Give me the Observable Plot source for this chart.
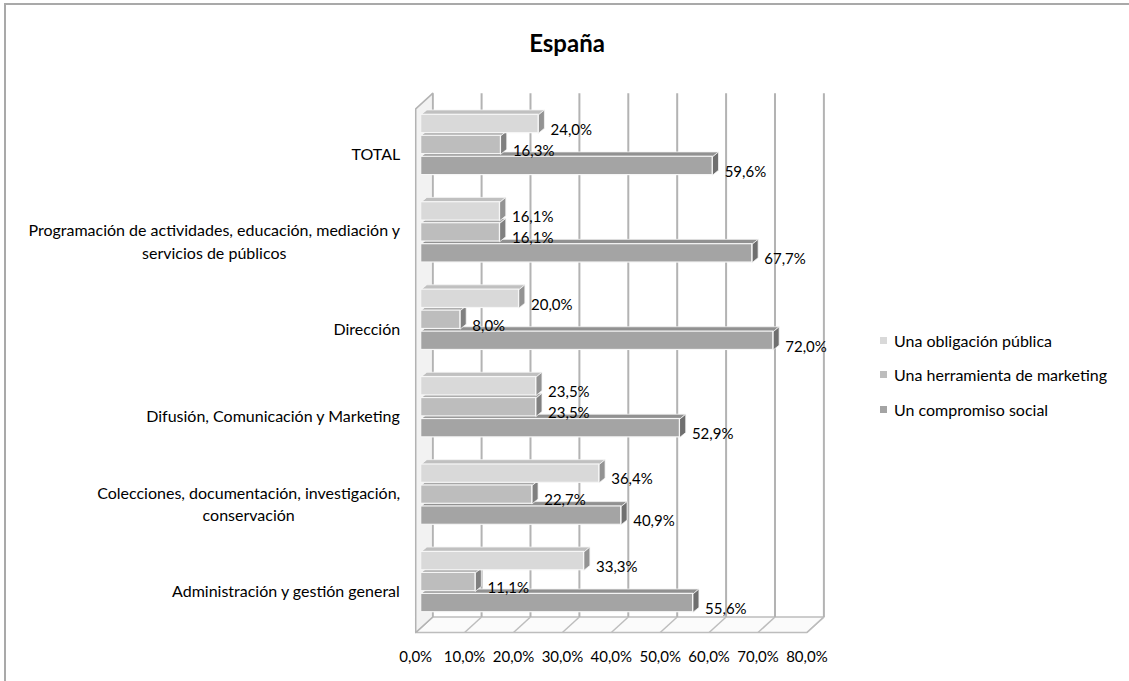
<!DOCTYPE html>
<html><head><meta charset="utf-8">
<script src="https://cdn.jsdelivr.net/npm/d3@7"></script>
<script src="https://cdn.jsdelivr.net/npm/@observablehq/plot@0.6"></script>
<style>
html,body{margin:0;padding:0;background:#fff;overflow:hidden;width:1129px;height:681px;}
#wrap{position:relative;width:1129px;height:681px;font-family:Lato, sans-serif;color:#000;}
#frame{position:absolute;left:4px;top:3px;width:1300px;height:900px;border:2px solid #a9a9a9;box-sizing:border-box;}
#title{position:absolute;left:0;top:28px;width:1134px;text-align:center;font-weight:bold;font-size:24px;}
#chart{position:absolute;left:0;top:80px;}
#legend{position:absolute;left:880px;top:323px;font-size:16px;}
.item{display:flex;align-items:center;height:34.5px;}
.sw{width:7px;height:7px;margin-right:7px;}
</style>
</head><body>
<div id="wrap">
  <div id="frame"></div>
  <div id="title">España</div>
  <div id="chart"></div>
  <div id="legend"></div>
</div>
<script>
// ---- data ----
const categories = [
  "TOTAL",
  "Programación de actividades, educación, mediación y\nservicios de públicos",
  "Dirección",
  "Difusión, Comunicación y Marketing",
  "Colecciones, documentación, investigación,\nconservación",
  "Administración y gestión general"
];
const series = ["Una obligación pública", "Una herramienta de marketing", "Un compromiso social"];
const obligacion = [24.0, 16.1, 20.0, 23.5, 36.4, 33.3];
const marketing  = [16.3, 16.1,  8.0, 23.5, 22.7, 11.1];
const compromiso = [59.6, 67.7, 72.0, 52.9, 40.9, 55.6];
const xTicks = [0, 10, 20, 30, 40, 50, 60, 70, 80];

const palette = ["#d9d9d9", "#bdbdbd", "#a4a4a4"];
const fmt = v => v.toFixed(1).replace(".", ",") + "%";

// ---- geometry in data units ----
const G = 0.28, BH = 0.24, GAP = 0.03;       // group padding, bar height
const TOP = 0.17, FLOOR = 6.16;               // wall top & floor level (bar plane)
const FX = 1.12, FY = 0.057, BKX = 2.35, BKY = 0.12; // front / back offsets of walls
const BX = 1.2, BY = 0.055;                   // bar depth

const values = [obligacion, marketing, compromiso];
const bars = [];
categories.forEach((c, i) => series.forEach((s, j) => {
  const y1 = G + i + BH * j + GAP / 2, y2 = G + i + BH * (j + 1) - GAP / 2;
  bars.push({cat: c, i, s, j, v: values[j][i], y1, y2, yc: (y1 + y2) / 2,
    face: palette[j],
    top: d3.color(palette[j]).darker(0.35).formatHex(),
    cap: d3.color(palette[j]).darker(1.1).formatHex()});
}));

const tops = [], caps = [];
bars.forEach((b, k) => {
  [[0, b.y1], [b.v, b.y1], [b.v + BX, b.y1 - BY], [BX, b.y1 - BY]]
    .forEach(([x, y]) => tops.push({k, x, y, fill: b.top}));
  [[b.v, b.y1], [b.v + BX, b.y1 - BY], [b.v + BX, b.y2 - BY], [b.v, b.y2]]
    .forEach(([x, y]) => caps.push({k, x, y, fill: b.cap}));
});

const leftWall = [[-FX, FLOOR + FY], [-FX, TOP + FY], [BKX, TOP - BKY], [BKX, FLOOR - BKY]].map(([x, y]) => ({x, y}));
const floor = [[-FX, FLOOR + FY], [80 - FX, FLOOR + FY], [80 + BKX, FLOOR - BKY], [BKX, FLOOR - BKY]].map(([x, y]) => ({x, y}));

// category labels: block right-aligned, lines centred within the block
const ctx = document.createElement("canvas").getContext("2d");
ctx.font = "16px Lato, sans-serif";
const labelMarks = categories.map((c, i) => {
  const w = d3.max(c.split("\n"), l => ctx.measureText(l).width);
  return Plot.text([{c, y: G + i + 0.36}], {x: 0, y: "y", text: "c", dx: -21 - w / 2, dy: 8,
    textAnchor: "middle", lineHeight: 1.4, fontSize: 16, fill: "#000"});
});

const chart = Plot.plot({
  width: 1129, height: 601,
  marginLeft: 420.7, marginRight: 317.1, marginTop: 8.5, marginBottom: 43.5,
  x: {domain: [0, 80], axis: null},
  y: {domain: [0, 6.28], reverse: true, axis: null},
  color: {type: "identity"},
  style: {fontFamily: "Lato, sans-serif", fontSize: "15px", background: "transparent", color: "#000", overflow: "visible"},
  marks: [
    // floor
    Plot.line(floor, {x: "x", y: "y", curve: "linear-closed", fill: "#fbfbfb", stroke: "#bdbdbd", strokeWidth: 1.5}),
    Plot.link(xTicks, {x1: d => d - FX, y1: FLOOR + FY, x2: d => d + BKX, y2: FLOOR - BKY, stroke: "#bdbdbd", strokeWidth: 1.5}),
    // back-wall gridlines
    Plot.link(xTicks, {x1: d => d + BKX, y1: TOP - BKY, x2: d => d + BKX, y2: FLOOR - BKY, stroke: "#b3b3b3", strokeWidth: 2}),
    // left wall
    Plot.line(leftWall, {x: "x", y: "y", curve: "linear-closed", fill: "#f2f2f2", stroke: "#b3b3b3", strokeWidth: 1.5}),
    // bars: top faces, caps, fronts
    Plot.line(tops, {x: "x", y: "y", z: "k", curve: "linear-closed", fill: "fill", stroke: "#f4f4f4", strokeWidth: 0.8}),
    Plot.line(caps, {x: "x", y: "y", z: "k", curve: "linear-closed", fill: "fill", stroke: "#f4f4f4", strokeWidth: 0.8}),
    Plot.rect(bars, {x1: 0, x2: "v", y1: "y1", y2: "y2", fill: "face", stroke: "#f6f6f6", strokeWidth: 1.2}),
    // value labels
    Plot.text(bars, {x: "v", y: "yc", text: d => fmt(d.v), dx: 12, dy: 6, textAnchor: "start", fontSize: 15, fill: "#000"}),
    // category labels
    ...labelMarks,
    // x tick labels
    Plot.text(xTicks, {x: d => d - FX, y: FLOOR + FY, text: d => fmt(d), dy: 25, fontSize: 15, fill: "#000"})
  ]
});
document.getElementById("chart").appendChild(chart);

const legend = document.getElementById("legend");
series.forEach((s, j) => {
  const it = document.createElement("div");
  it.className = "item";
  const sw = document.createElement("span");
  sw.className = "sw";
  sw.style.background = palette[j];
  const t = document.createElement("span");
  t.textContent = s;
  it.appendChild(sw); it.appendChild(t);
  legend.appendChild(it);
});
</script>
</body></html>
